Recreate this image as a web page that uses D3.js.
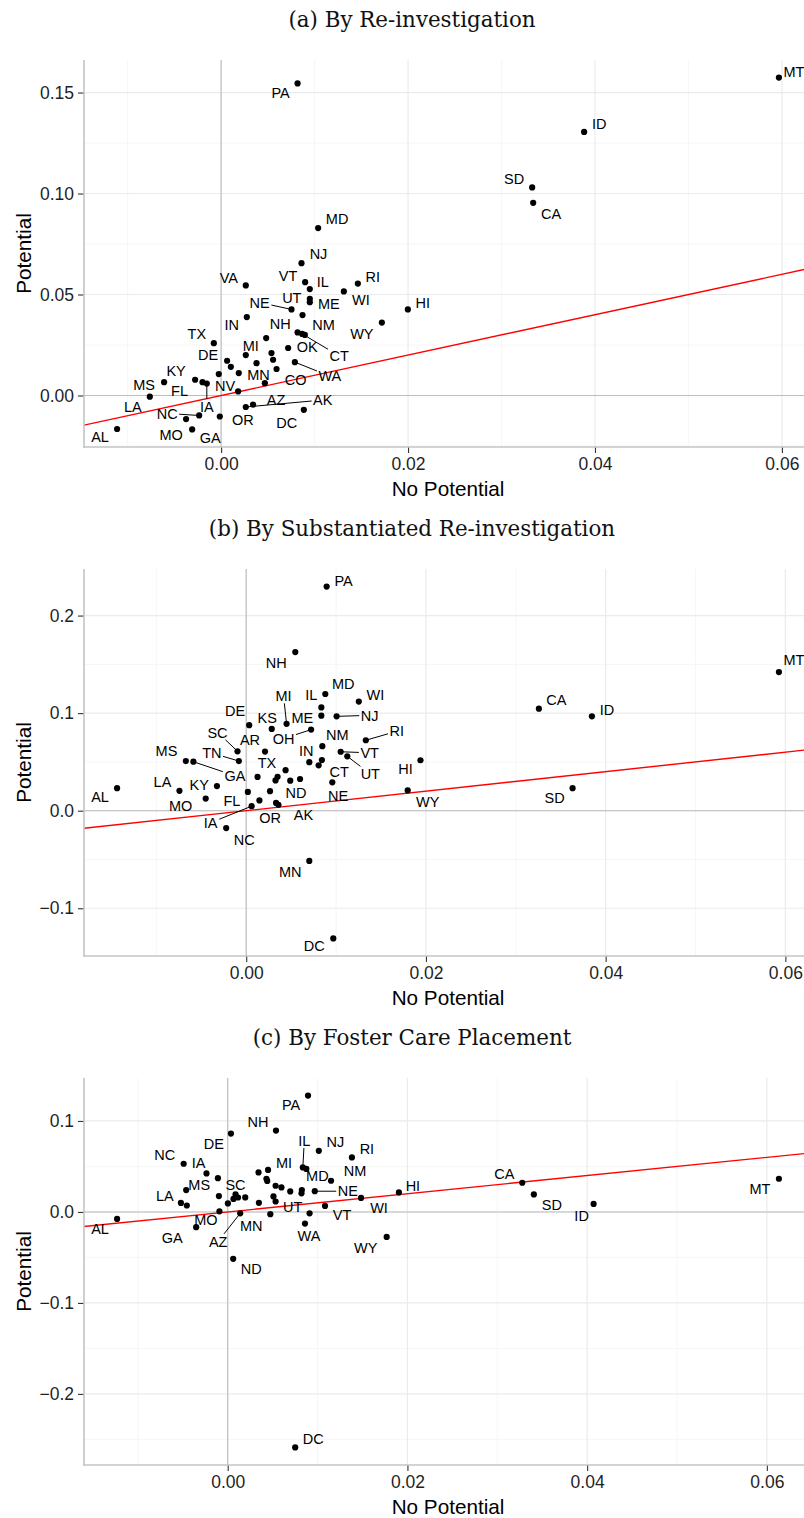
<!DOCTYPE html>
<html>
<head>
<meta charset="utf-8">
<script src="https://cdn.jsdelivr.net/npm/d3@7"></script>
<style>
  html, body { margin: 0; padding: 0; background: #fff; }
  svg { display: block; }
</style>
</head>
<body>
<svg id="chart" width="804" height="1518"></svg>
<script>
// ---------- Panel (a): By Re-investigation ----------
const statesA = ["PA","MT","ID","SD","CA","HI","MD","NJ","VA","VT","IL","RI","WI","UT","ME","NE","NM","NH","IN","WY","","CT","","TX","OK","MI","","","DE","","MN","WA","CO","","","MS","KY","FL","IA","","NV","LA","NC","MO","OR","AK","AZ","DC","GA","AL"];
const noPotentialA = [0.00818,0.05968,0.03884,0.03328,0.03339,0.01998,0.01038,0.00860,0.00264,0.00899,0.00949,0.01463,0.01313,0.00949,0.00949,0.00753,0.00871,0.00482,0.00275,0.01720,0.00818,0.00867,0.00896,-0.00078,0.00717,0.00264,0.00539,0.00556,0.00064,0.00104,0.00379,0.00789,0.00593,-0.00025,0.00189,-0.00610,-0.00278,-0.00199,-0.00153,0.00468,0.00182,-0.00763,-0.00235,-0.00375,-0.00014,0.00264,0.00342,0.00885,-0.00310,-0.01113];
const potentialA = [0.1545,0.1574,0.1305,0.1030,0.0954,0.0426,0.0829,0.0655,0.0545,0.0561,0.0527,0.0554,0.0515,0.0479,0.0462,0.0426,0.0398,0.0284,0.0388,0.0361,0.0312,0.0305,0.0300,0.0259,0.0235,0.0200,0.0210,0.0177,0.0172,0.0142,0.0160,0.0165,0.0131,0.0106,0.0111,0.0066,0.0078,0.0066,0.0059,0.0061,0.0020,-0.0006,-0.0099,-0.0117,-0.0104,-0.0057,-0.0045,-0.0071,-0.0168,-0.0166];
const yTicksA = [0, 0.05, 0.10, 0.15];
const yTickLabelsA = ["0.00","0.05","0.10","0.15"];

// ---------- Panel (b): By Substantiated Re-investigation ----------
const statesB = ["PA","NH","MD","IL","WI","ME","NJ","MI","DE","KS","OH","RI","SC","AR","NM","VT","UT","MS","GA","TN","IN","CT","","","TX","","","ND","","NE","KY","LA","FL","","MO","","OR","AK","IA","AL","NC","MN","DC","CA","ID","MT","HI","WY","SD"];
const noPotentialB = [0.00895,0.00546,0.00880,0.00836,0.01253,0.00836,0.01006,0.00449,0.00033,0.00284,0.00722,0.01331,-0.00097,0.00209,0.00847,0.01051,0.01125,-0.00672,-0.00588,-0.00082,0.00702,0.00842,0.00806,0.00438,0.00126,0.00349,0.00326,0.00490,0.00599,0.00958,-0.00326,-0.00743,0.00018,0.00265,-0.00451,0.00147,0.00332,0.00359,0.00060,-0.01437,-0.00223,0.00702,0.00969,0.03257,0.03847,0.05928,0.01939,0.01797,0.03632];
const potentialB = [0.2297,0.1626,0.1196,0.1059,0.1118,0.0974,0.0967,0.0890,0.0877,0.0838,0.0831,0.0722,0.0609,0.0606,0.0661,0.0604,0.0557,0.0509,0.0502,0.0509,0.0497,0.0519,0.0465,0.0415,0.0346,0.0348,0.0310,0.0308,0.0325,0.0291,0.0252,0.0204,0.0192,0.0200,0.0124,0.0105,0.0080,0.0061,0.0046,0.0231,-0.0178,-0.0515,-0.1309,0.1046,0.0967,0.1421,0.0517,0.0208,0.0231];
const yTicksB = [-0.1, 0, 0.1, 0.2];
const yTickLabelsB = ["\u22120.1","0.0","0.1","0.2"];

// ---------- Panel (c): By Foster Care Placement ----------
const statesC = ["PA","NH","DE","NJ","RI","NC","IL","MD","MI","","IA","","","","NM","","","MS","","","","NE","HI","WI","","SC","","","","","UT","LA","","","","VT","MO","AZ","MN","","AL","WA","GA","WY","ND","CA","SD","ID","MT","DC"];
const noPotentialC = [0.00894,0.00537,0.00036,0.01014,0.01382,-0.00490,0.00836,0.00875,0.00449,0.00343,-0.00236,-0.00109,0.00431,0.00440,0.01150,0.00533,0.00598,-0.00462,0.00696,0.00825,0.00821,0.00969,0.01905,0.01484,-0.00098,0.00087,0.00115,0.00064,0.00195,0.00509,0.00533,-0.00521,-0.00455,0.00002,0.00347,0.01083,-0.00092,0.00139,0.00474,0.00911,-0.01231,0.00860,-0.00351,0.01769,0.00061,0.03278,0.03407,0.04072,0.06134,0.00751];
const potentialC = [0.1279,0.0895,0.0862,0.0672,0.0599,0.0530,0.0489,0.0473,0.0462,0.0434,0.0423,0.0371,0.0365,0.0341,0.0343,0.0288,0.0270,0.0241,0.0226,0.0240,0.0205,0.0228,0.0215,0.0154,0.0174,0.0193,0.0159,0.0143,0.0160,0.0171,0.0115,0.0099,0.0071,0.0094,0.0100,0.0066,0.0007,-0.0015,-0.0024,-0.0015,-0.0077,-0.0128,-0.0167,-0.0274,-0.0515,0.0321,0.0193,0.0088,0.0365,-0.2588];
const yTicksC = [-0.2, -0.1, 0, 0.1];
const yTickLabelsC = ["\u22120.2","\u22120.1","0.0","0.1"];

// Shared x axis ticks and captions
const xTicks = [0, 0.02, 0.04, 0.06];
const xTickLabels = ["0.00","0.02","0.04","0.06"];
const captions = ["(a) By Re-investigation", "(b) By Substantiated Re-investigation", "(c) By Foster Care Placement"];
const xTitle = "No Potential";
const yTitle = "Potential";

// Repelled label placement (pixel nudges from each point) and which labels get a segment
const labelNudgeA = {PA:[-17,9],MT:[15,-6],ID:[15,-8],SD:[-18,-9],CA:[18,11],HI:[15,-7],MD:[19,-9],NJ:[17,-9],VA:[-17,-8],VT:[-17,-6],IL:[13,-7],RI:[15,-7],WI:[17,8],UT:[-18,-1],ME:[19,2],NE:[-32,-7],NM:[21,10],NH:[14,-14],IN:[-15,8],WY:[-20,11],CT:[37,22],TX:[-17,-9],OK:[19,-1],MI:[5,-9],DE:[-19,-6],MN:[2,12],WA:[35,14],CO:[19,11],MS:[-20,3],KY:[-19,-9],FL:[-23,9],IA:[0,23],NV:[-13,-6],LA:[-17,10],NC:[-32,-2],MO:[-15,16],OR:[23,3],AK:[77,-7],AZ:[23,-5],DC:[-17,13],GA:[18,8],AL:[-17,8]};
const segmentsA = ["NE","CT","WA","IA","NC","AK"];
const labelNudgeB = {PA:[17,-6],NH:[-19,11],MD:[18,-10],IL:[-10,-13],WI:[16.5,-7],ME:[-19,2],NJ:[33,-1],MI:[-3,-28],DE:[-14,-14.5],KS:[-4.5,-11.6],OH:[-27.5,9],RI:[31,-9],SC:[-20,-19],AR:[-15,-12],NM:[15,-11],VT:[29,1],UT:[23,17.5],MS:[-19.4,-10],GA:[41.5,14],TN:[-27,-8],IN:[-3,-11],CT:[17.4,11.5],TX:[9.4,-14],ND:[5.7,12],NE:[5.7,13],KY:[-17.7,-1.4],LA:[-17,-8.6],FL:[-16,8.5],MO:[-25,7.5],OR:[-6,15],AK:[25,10],IA:[-41,16.5],AL:[-17,9],NC:[18,12],MN:[-19,10.6],DC:[-19,7.4],CA:[17.4,-9],ID:[15,-6.7],MT:[15,-12],HI:[-15,9],WY:[20,11],SD:[-18,10]};
const segmentsB = ["NJ","MI","OH","RI","SC","VT","UT","GA","TN","IA"];
const labelNudgeC = {PA:[-17,9],NH:[-18,-9],DE:[-17,10],NJ:[16.5,-9],RI:[15,-9],IL:[1.5,-27],NC:[-19,-9],IA:[-8,-11],MI:[16,-7],MD:[11,7],NM:[24,-10],MS:[13,-5],SC:[0,-10],LA:[-16,-7],NE:[33,0],HI:[14,-7],UT:[17,5],WI:[18,10],VT:[17,9],MO:[-13.5,8],AZ:[-22,28],MN:[-19,12],GA:[-24,11],AL:[-17,10],WA:[4,12],WY:[-21,11],ND:[18,10],CA:[-18,-9],SD:[18,10],ID:[-12,12],MT:[-19,10],DC:[18,-9]};
const segmentsC = ["IL","NE","AZ"];

const panels = [
  {states: statesA, xs: noPotentialA, ys: potentialA, yTicks: yTicksA, yLabels: yTickLabelsA, nudge: labelNudgeA, segs: segmentsA},
  {states: statesB, xs: noPotentialB, ys: potentialB, yTicks: yTicksB, yLabels: yTickLabelsB, nudge: labelNudgeB, segs: segmentsB},
  {states: statesC, xs: noPotentialC, ys: potentialC, yTicks: yTicksC, yLabels: yTickLabelsC, nudge: labelNudgeC, segs: segmentsC}
];

// ---------- Layout ----------
const plotLeft = 84, plotWidth = 728, plotHeight = 387;
const firstTop = 60, panelStep = 509;
const sansFont = "'Liberation Sans', Arial, Helvetica, sans-serif";
const serifFont = "'DejaVu Serif', 'Liberation Serif', serif";

const svg = d3.select("#chart");

function expand(ext) {
  const d = (ext[1] - ext[0]) * 0.05;
  return [ext[0] - d, ext[1] + d];
}
function minorBreaks(ticks, domain) {
  const step = ticks[1] - ticks[0];
  const out = [];
  [ticks[0] - step, ...ticks].forEach(t => {
    const m = t + step / 2;
    if (m >= domain[0] && m <= domain[1]) out.push(m);
  });
  return out;
}

panels.forEach((p, i) => {
  const top = firstTop + i * panelStep;
  const bottom = top + plotHeight;
  const data = p.xs.map((x, k) => ({state: p.states[k], x, y: p.ys[k]}));

  const xDomain = expand(d3.extent(p.xs));
  const yDomain = expand(d3.extent(p.ys));
  const x = d3.scaleLinear().domain(xDomain).range([plotLeft, plotLeft + plotWidth]);
  const y = d3.scaleLinear().domain(yDomain).range([bottom, top]);

  const g = svg.append("g");

  // caption
  g.append("text")
    .attr("x", 412).attr("y", top - 33)
    .attr("text-anchor", "middle")
    .attr("font-family", serifFont)
    .attr("font-size", 21.4)
    .attr("fill", "#111")
    .text(captions[i]);

  const clipId = "clip" + i;
  g.append("clipPath").attr("id", clipId)
    .append("rect").attr("x", plotLeft).attr("y", top)
    .attr("width", plotWidth).attr("height", plotHeight);

  const grid = g.append("g");
  // minor grid
  minorBreaks(xTicks, xDomain).forEach(v => {
    grid.append("line").attr("x1", x(v)).attr("x2", x(v)).attr("y1", top).attr("y2", bottom)
      .attr("stroke", "#f4f4f4").attr("stroke-width", 0.8);
  });
  minorBreaks(p.yTicks, yDomain).forEach(v => {
    grid.append("line").attr("x1", plotLeft).attr("x2", plotLeft + plotWidth).attr("y1", y(v)).attr("y2", y(v))
      .attr("stroke", "#f4f4f4").attr("stroke-width", 0.8);
  });
  // major grid
  xTicks.forEach(v => {
    grid.append("line").attr("x1", x(v)).attr("x2", x(v)).attr("y1", top).attr("y2", bottom)
      .attr("stroke", "#ebebeb").attr("stroke-width", 1.2);
  });
  p.yTicks.forEach(v => {
    grid.append("line").attr("x1", plotLeft).attr("x2", plotLeft + plotWidth).attr("y1", y(v)).attr("y2", y(v))
      .attr("stroke", "#ebebeb").attr("stroke-width", 1.2);
  });

  // zero reference lines
  g.append("line").attr("x1", x(0)).attr("x2", x(0)).attr("y1", top).attr("y2", bottom)
    .attr("stroke", "#bdbdbd").attr("stroke-width", 1.1);
  g.append("line").attr("x1", plotLeft).attr("x2", plotLeft + plotWidth).attr("y1", y(0)).attr("y2", y(0))
    .attr("stroke", "#bdbdbd").attr("stroke-width", 1.1);

  // 45-degree line (Potential = No Potential)
  g.append("line")
    .attr("clip-path", `url(#${clipId})`)
    .attr("x1", x(xDomain[0])).attr("y1", y(xDomain[0]))
    .attr("x2", x(xDomain[1])).attr("y2", y(xDomain[1]))
    .attr("stroke", "#ff0000").attr("stroke-width", 1.4);

  // axes
  const xAxis = g.append("g").attr("transform", `translate(0,${bottom})`)
    .call(d3.axisBottom(x).tickValues(xTicks).tickFormat((d, k) => xTickLabels[k]).tickSize(6).tickPadding(5));
  const yAxis = g.append("g").attr("transform", `translate(${plotLeft},0)`)
    .call(d3.axisLeft(y).tickValues(p.yTicks).tickFormat((d, k) => p.yLabels[k]).tickSize(6).tickPadding(4));
  [xAxis, yAxis].forEach(ax => {
    ax.select(".domain").remove();
    ax.selectAll(".tick line").attr("stroke", "#333").attr("stroke-width", 1.1);
    ax.selectAll(".tick text").attr("font-family", sansFont).attr("font-size", 17.5).attr("fill", "#1f1f1f");
  });
  g.append("line").attr("x1", plotLeft).attr("x2", plotLeft).attr("y1", top).attr("y2", bottom + 0.8)
    .attr("stroke", "#c4c4c4").attr("stroke-width", 1.6);
  g.append("line").attr("x1", plotLeft - 0.8).attr("x2", plotLeft + plotWidth).attr("y1", bottom).attr("y2", bottom)
    .attr("stroke", "#c4c4c4").attr("stroke-width", 1.6);

  // axis titles
  g.append("text")
    .attr("x", plotLeft + plotWidth / 2).attr("y", bottom + 48.5)
    .attr("text-anchor", "middle")
    .attr("font-family", sansFont).attr("font-size", 20.7).attr("fill", "#000")
    .text(xTitle);
  g.append("text")
    .attr("transform", `translate(30.5,${top + plotHeight / 2}) rotate(-90)`)
    .attr("text-anchor", "middle")
    .attr("font-family", sansFont).attr("font-size", 20.7).attr("fill", "#000")
    .text(yTitle);

  // points
  g.append("g").selectAll("circle").data(data).join("circle")
    .attr("cx", d => x(d.x)).attr("cy", d => y(d.y)).attr("r", 3.1)
    .attr("fill", "#000");

  // labels and their segments
  const segLayer = g.append("g");
  const labelLayer = g.append("g");
  data.filter(d => d.state && p.nudge[d.state]).forEach(d => {
    const px = x(d.x), py = y(d.y);
    const [dx, dy] = p.nudge[d.state];
    const cx = px + dx, cy = py + dy;
    const t = labelLayer.append("text")
      .attr("x", cx).attr("y", cy).attr("dy", "0.36em")
      .attr("text-anchor", "middle")
      .attr("font-family", sansFont).attr("font-size", 14.5).attr("fill", "#000")
      .text(d.state);
    if (p.segs.includes(d.state)) {
      const b = t.node().getBBox();
      const padB = 1.5;
      const x0 = b.x - padB, x1 = b.x + b.width + padB;
      const y0 = cy - 6 - padB, y1 = cy + 6 + padB;
      const vx = cx - px, vy = cy - py;
      let tEnter = 0;
      if (vx !== 0) tEnter = Math.max(tEnter, Math.min((x0 - px) / vx, (x1 - px) / vx));
      if (vy !== 0) tEnter = Math.max(tEnter, Math.min((y0 - py) / vy, (y1 - py) / vy));
      tEnter = Math.min(1, tEnter);
      segLayer.append("line")
        .attr("x1", px).attr("y1", py)
        .attr("x2", px + vx * tEnter).attr("y2", py + vy * tEnter)
        .attr("stroke", "#000").attr("stroke-width", 1);
    }
  });
});
</script>
</body>
</html>
